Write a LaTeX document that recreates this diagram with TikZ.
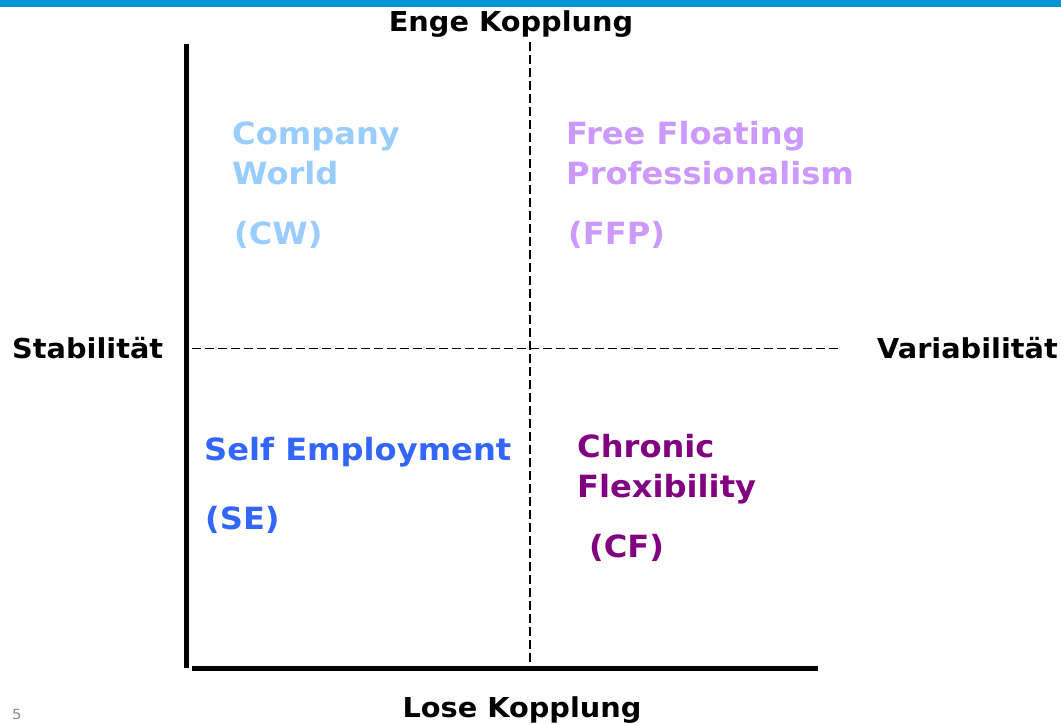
\documentclass[tikz,border=0pt]{standalone}
\usepackage{fontspec}
\newfontfamily\vb{DejaVu Sans}[FakeStretch=1.05]
\definecolor{barblue}{HTML}{0096D2}
\definecolor{cwcol}{HTML}{99CCFF}
\definecolor{ffpcol}{HTML}{CC99FF}
\definecolor{secol}{HTML}{3366FF}
\definecolor{cfcol}{HTML}{800080}
\tikzset{
  axislabel/.style={inner sep=0pt, anchor=base, font=\vb\bfseries\fontsize{27.4}{32}\selectfont},
  quad/.style={inner sep=0pt, anchor=base west, font=\vb\bfseries\fontsize{30.6}{36}\selectfont},
  axisline/.style={line width=4.6pt, black},
  dashline/.style={line width=1.4pt, black, dash pattern=on 9pt off 4pt}
}
\begin{document}
\begin{tikzpicture}[x=1pt,y=-1pt]
\useasboundingbox (0,0) rectangle (1061,724);
\fill[barblue] (0,0) rectangle (1061,6.5);
% axes
\coordinate (vtop) at (186.7,44);
\coordinate (vbot) at (186.7,668);
\coordinate (hleft) at (192,668.3);
\coordinate (hright) at (818,668.3);
\draw[axisline] (vtop) -- (vbot);
\draw[axisline] (hleft) -- (hright);
% dashed quadrant lines
\coordinate (dl) at (192,348.7);
\coordinate (dr) at (840,348.7);
\coordinate (dt) at (530,42);
\coordinate (db) at (530,665);
\draw[dashline] (dl) -- (dr);
\draw[dashline] (dt) -- (db);
% axis labels
\node[axislabel] (enge) at (511,31) {Enge Kopplung};
\node[axislabel] (lose) at (522,717) {Lose Kopplung};
\node[axislabel, anchor=base west] (stab) at (12,358) {Stabilität};
\node[axislabel, anchor=base east] (var) at (1058,358) {Variabilität};
\node[inner sep=0pt, anchor=base west, text=black!45, font=\vb\fontsize{14}{16}\selectfont] (page) at (12,719) {5};
% quadrants
\node[quad, text=cwcol] (cw1) at (232,144) {Company};
\node[quad, text=cwcol] (cw2) at (232,184) {World};
\node[quad, text=cwcol] (cw3) at (234,244) {(CW)};
\node[quad, text=ffpcol] (ffp1) at (566,144) {Free Floating};
\node[quad, text=ffpcol] (ffp2) at (566,184) {Professionalism};
\node[quad, text=ffpcol] (ffp3) at (568,244) {(FFP)};
\node[quad, text=secol] (se1) at (204,460) {Self Employment};
\node[quad, text=secol] (se2) at (205,529) {(SE)};
\node[quad, text=cfcol] (cf1) at (577,457) {Chronic};
\node[quad, text=cfcol] (cf2) at (577,497) {Flexibility};
\node[quad, text=cfcol] (cf3) at (589,557) {(CF)};
\end{tikzpicture}
\end{document}
